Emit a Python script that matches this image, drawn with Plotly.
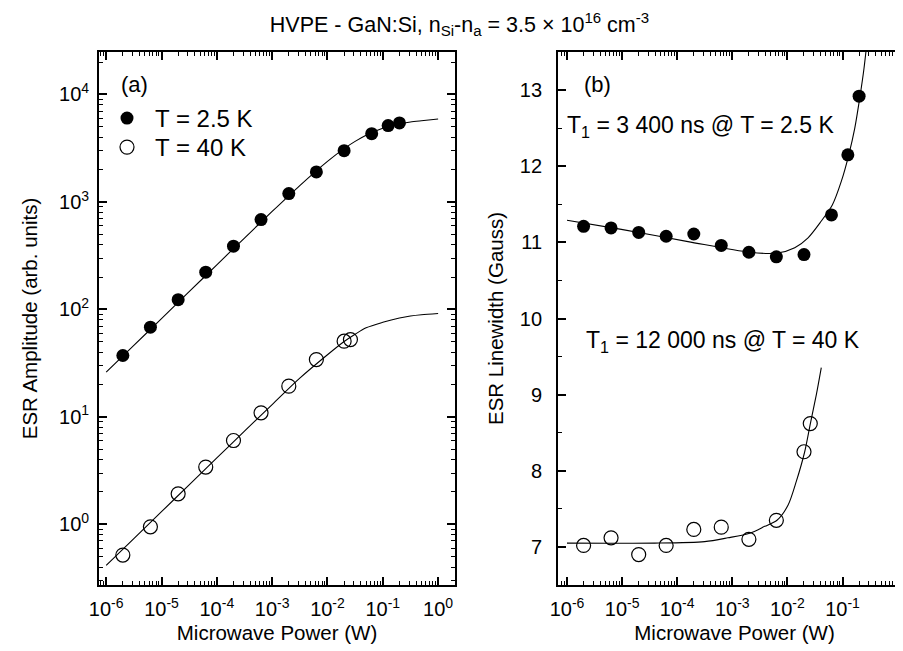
import plotly.graph_objects as go

FONT = "Liberation Sans, Arial, sans-serif"
BLACK = "#000000"

# measured points (W)
power_25K = [2e-6, 6.3e-6, 2e-5, 6.3e-5, 2e-4, 6.3e-4, 2e-3, 6.3e-3, 2e-2, 6.3e-2, 0.125, 0.2]
power_40K = [2e-6, 6.3e-6, 2e-5, 6.3e-5, 2e-4, 6.3e-4, 2e-3, 6.3e-3, 2e-2, 2.6e-2]

amp_25K = [37.2, 68.3, 123, 222, 387, 685, 1195, 1900, 3000, 4316, 5130, 5430]
amp_40K = [0.517, 0.948, 1.92, 3.41, 6.02, 10.9, 19.3, 34.1, 50.6, 52.4]

lw_25K = [11.21, 11.19, 11.13, 11.08, 11.11, 10.96, 10.87, 10.81, 10.84, 11.36, 12.15, 12.92]
lw_40K = [7.02, 7.12, 6.90, 7.02, 7.23, 7.26, 7.10, 7.35, 8.25, 8.62]

# fit curves
fit_amp_power = [1e-6, 3.16e-6, 1e-5, 3.16e-5, 1e-4, 3.16e-4, 1e-3, 3.16e-3, 1e-2,
                 2e-2, 3.16e-2, 5e-2, 0.1, 0.2, 0.316, 0.5, 1.0]
fit_amp_25K = [26, 46.2, 82, 146, 260, 461, 815, 1420, 2385,
               3134, 3659, 4171, 4839, 5320, 5540, 5692, 5900]
fit_amp_40K = [0.414, 0.736, 1.31, 2.33, 4.14, 7.36, 13.0, 22.9, 37.8,
               50.2, 58.7, 67.4, 75.8, 83.1, 86.8, 89.2, 91.5]

fit_lw_power_25K = [1e-6, 9.7e-6, 1.57e-4, 2.07e-3, 6.56e-3, 1.36e-2, 2.37e-2, 4.12e-2,
                    6.53e-2, 9.5e-2, 0.13, 0.167, 0.205, 0.245, 0.275]
fit_lw_25K = [11.29, 11.17, 11.01, 10.87, 10.86, 10.93, 11.06, 11.28,
              11.49, 11.80, 12.15, 12.50, 12.89, 13.28, 13.6]

fit_lw_power_40K = [1e-6, 3.9e-5, 3.15e-4, 8.3e-4, 2.07e-3, 3.87e-3, 6.47e-3, 1.03e-2,
                    1.45e-2, 2.06e-2, 2.61e-2, 3.35e-2, 4.12e-2]
fit_lw_40K = [7.05, 7.05, 7.07, 7.12, 7.18, 7.27, 7.35, 7.55,
              7.86, 8.25, 8.62, 9.00, 9.355]

x_tickvals = [1e-6, 1e-5, 1e-4, 1e-3, 1e-2, 1e-1, 1e0]
x_ticktext = ["10<sup>-6</sup>", "10<sup>-5</sup>", "10<sup>-4</sup>", "10<sup>-3</sup>",
              "10<sup>-2</sup>", "10<sup>-1</sup>", "10<sup>0</sup>"]
y_tickvals = [1e0, 1e1, 1e2, 1e3, 1e4]
y_ticktext = ["10<sup>0</sup>", "10<sup>1</sup>", "10<sup>2</sup>", "10<sup>3</sup>", "10<sup>4</sup>"]

fig = go.Figure()

curve = dict(color=BLACK, width=1.1, shape="spline", smoothing=0.8)
filled = dict(symbol="circle", size=13, color=BLACK)
hollow = dict(symbol="circle-open", size=14, color=BLACK, line=dict(width=1.2, color=BLACK))

# panel (a)
fig.add_trace(go.Scatter(x=fit_amp_power, y=fit_amp_25K, mode="lines", line=curve,
                         showlegend=False, xaxis="x", yaxis="y"))
fig.add_trace(go.Scatter(x=fit_amp_power, y=fit_amp_40K, mode="lines", line=curve,
                         showlegend=False, xaxis="x", yaxis="y"))
fig.add_trace(go.Scatter(x=power_25K, y=amp_25K, mode="markers", marker=filled,
                         name="T = 2.5 K", legend="legend", xaxis="x", yaxis="y"))
fig.add_trace(go.Scatter(x=power_40K, y=amp_40K, mode="markers", marker=hollow,
                         name="T = 40 K", legend="legend2", xaxis="x", yaxis="y"))

# panel (b)
fig.add_trace(go.Scatter(x=fit_lw_power_25K, y=fit_lw_25K, mode="lines", line=curve,
                         showlegend=False, xaxis="x2", yaxis="y2"))
fig.add_trace(go.Scatter(x=fit_lw_power_40K, y=fit_lw_40K, mode="lines", line=curve,
                         showlegend=False, xaxis="x2", yaxis="y2"))
fig.add_trace(go.Scatter(x=power_25K, y=lw_25K, mode="markers", marker=filled,
                         showlegend=False, xaxis="x2", yaxis="y2"))
fig.add_trace(go.Scatter(x=power_40K, y=lw_40K, mode="markers", marker=hollow,
                         showlegend=False, xaxis="x2", yaxis="y2"))

axis_common = dict(
    showline=True, linecolor=BLACK, linewidth=1.8,
    ticks="inside", ticklen=8, tickwidth=1.5, tickcolor=BLACK,
    showgrid=False, zeroline=False, automargin=False,
    tickfont=dict(family=FONT, size=20, color=BLACK),
)
minor_log = dict(ticks="inside", ticklen=4, tickwidth=1, tickcolor=BLACK, dtick="D1", showgrid=False)
title_font = dict(family=FONT, size=20.5, color=BLACK)
legend_font = dict(family=FONT, size=24, color=BLACK)

fig.update_layout(
    width=903, height=651,
    margin=dict(l=91, r=0, t=44, b=74),
    paper_bgcolor="white", plot_bgcolor="white",
    font=dict(family=FONT, color=BLACK),
    title=dict(
        text="HVPE - GaN:Si, n<sub>Si</sub>-n<sub>a</sub> = 3.5 × 10<sup>16</sup> cm<sup>-3</sup>",
        font=dict(family=FONT, size=21.5, color=BLACK),
        x=0.5, xref="container", xanchor="center",
        y=0.975, yref="container", yanchor="middle",
    ),
    xaxis=dict(axis_common, domain=[0, 0.4384], type="log", range=[-6.13, 0.305],
               tickmode="array", tickvals=x_tickvals, ticktext=x_ticktext, ticklabelstandoff=5,
               minor=minor_log, mirror="ticks", anchor="y",
               title=dict(text="Microwave Power (W)", font=title_font, standoff=7)),
    yaxis=dict(axis_common, type="log", range=[-0.565, 4.395],
               tickmode="array", tickvals=y_tickvals, ticktext=y_ticktext, ticklabelstandoff=4,
               minor=minor_log, mirror="ticks", anchor="x",
               title=dict(text="ESR Amplitude (arb. units)", font=title_font, standoff=16)),
    xaxis2=dict(axis_common, domain=[0.5653, 1], type="log", range=[-6.163, 0.243],
                tickmode="array", tickvals=x_tickvals, ticktext=x_ticktext, ticklabelstandoff=5,
                minor=minor_log, mirror="ticks", anchor="y2",
                title=dict(text="Microwave Power (W)", font=title_font, standoff=7)),
    yaxis2=dict(axis_common, range=[6.5, 13.5], dtick=1, ticklabelstandoff=10,
                minor=dict(ticks="inside", ticklen=4, tickwidth=1, tickcolor=BLACK, dtick=0.5),
                mirror=False, anchor="x2",
                title=dict(text="ESR Linewidth (Gauss)", font=title_font, standoff=11)),
    legend=dict(x=0.0, y=0.9175, xanchor="left", yanchor="top", itemwidth=46,
                bgcolor="rgba(0,0,0,0)", font=legend_font),
    legend2=dict(x=0.0, y=0.863, xanchor="left", yanchor="top", itemwidth=46,
                 bgcolor="rgba(0,0,0,0)", font=legend_font),
)

label_font = dict(family=FONT, size=22, color=BLACK)
text_font = dict(family=FONT, size=23, color=BLACK)
fig.add_annotation(text="(a)", xref="x domain", yref="y domain", x=0.100, y=0.9387,
                   xanchor="center", yanchor="middle", showarrow=False, font=label_font)
fig.add_annotation(text="(b)", xref="x2 domain", yref="y2 domain", x=0.113, y=0.9387,
                   xanchor="center", yanchor="middle", showarrow=False, font=label_font)
fig.add_annotation(text="T<sub>1</sub> = 3 400 ns @ T = 2.5 K", xref="x2 domain", yref="y2 domain",
                   x=0.02, y=0.86, xanchor="left", yanchor="middle", showarrow=False, font=text_font)
fig.add_annotation(text="T<sub>1</sub> = 12 000 ns @ T = 40 K", xref="x2 domain", yref="y2 domain",
                   x=0.075, y=0.457, xanchor="left", yanchor="middle", showarrow=False, font=text_font)

fig.write_html("out.html")
